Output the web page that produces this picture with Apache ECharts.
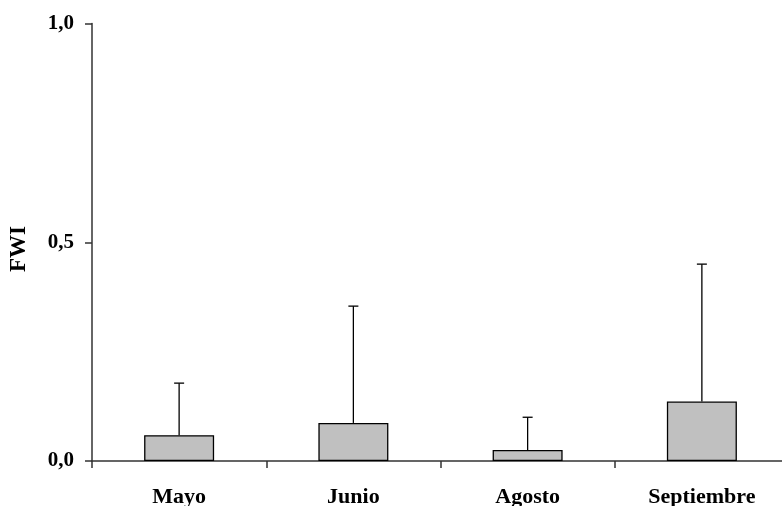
<!DOCTYPE html>
<html>
<head>
<meta charset="utf-8">
<script src="https://cdn.jsdelivr.net/npm/echarts@6/dist/echarts.min.js"></script>
<style>html,body{margin:0;padding:0;background:#fff;}#c{width:782px;height:506px;}</style>
</head>
<body>
<div id="c"></div>
<script>
const categories = ['Mayo', 'Junio', 'Agosto', 'Septiembre'];
const means = [0.059, 0.087, 0.025, 0.136];
const upper = [0.178, 0.354, 0.100, 0.450];
const yTicks = [0, 0.5, 1.0];

const chart = echarts.init(document.getElementById('c'));
const font = '"Liberation Serif", "Times New Roman", serif';
chart.setOption({
  animation: false,
  grid: { left: 92, top: 23.5, width: 697, height: 437.5, containLabel: false, outerBoundsMode: 'none' },
  graphic: [{
    type: 'text',
    x: 19, y: 249,
    rotation: Math.PI / 2,
    style: { text: 'FWI', fill: '#000', font: 'bold 23px ' + font, align: 'center', verticalAlign: 'middle' }
  }],
  xAxis: {
    type: 'category',
    data: categories,
    boundaryGap: true,
    axisLine: { lineStyle: { color: '#333', width: 1.5 } },
    axisTick: { show: true, length: 7, lineStyle: { color: '#333', width: 1.5 } },
    axisLabel: { margin: 25, color: '#000', fontFamily: font, fontWeight: 'bold', fontSize: 22 }
  },
  yAxis: {
    type: 'value',
    min: 0, max: 1, interval: 0.5,
    axisLine: { show: true, lineStyle: { color: '#333', width: 1.5 } },
    axisTick: { show: true, length: 7, lineStyle: { color: '#333', width: 1.5 } },
    splitLine: { show: false },
    axisLabel: {
      margin: 18, color: '#000', fontFamily: font, fontWeight: 'bold', fontSize: 21,
      formatter: v => yTicks.includes(v) ? v.toFixed(1).replace('.', ',') : ''
    }
  },
  series: [
    {
      type: 'bar',
      data: means,
      barWidth: 70,
      itemStyle: { color: '#c0c0c0', borderColor: '#000', borderWidth: 1.3 },
      z: 2
    },
    {
      type: 'custom',
      data: categories.map((c, i) => [i, means[i], upper[i]]),
      renderItem: function (params, api) {
        const x = api.value(0);
        const b = api.coord([x, api.value(1)]);
        const t = api.coord([x, api.value(2)]);
        const half = 5;
        return {
          type: 'group',
          children: [
            { type: 'line', shape: { x1: b[0], y1: b[1], x2: t[0], y2: t[1] }, style: { stroke: '#000', lineWidth: 1.3 } },
            { type: 'line', shape: { x1: t[0] - half, y1: t[1], x2: t[0] + half, y2: t[1] }, style: { stroke: '#000', lineWidth: 1.3 } }
          ]
        };
      },
      z: 3
    }
  ]
});
</script>
</body>
</html>
